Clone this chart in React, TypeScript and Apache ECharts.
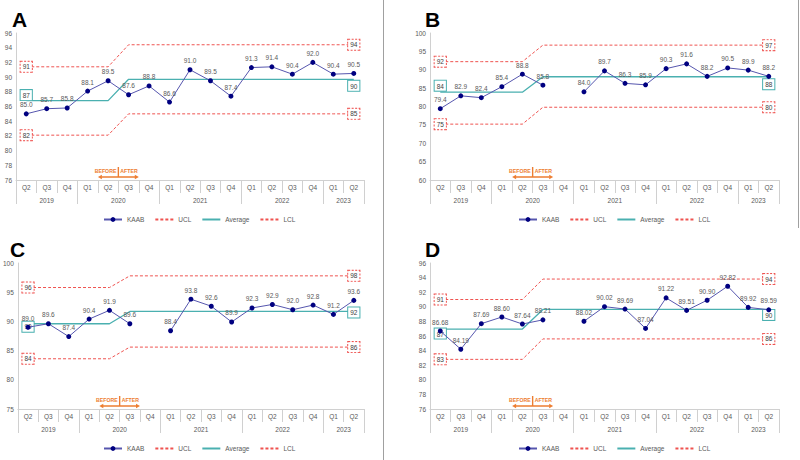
import React, { useEffect, useRef } from 'react';
import * as echarts from 'echarts';

// ---------- data ----------
const quarters = ['Q2', 'Q3', 'Q4', 'Q1', 'Q2', 'Q3', 'Q4', 'Q1', 'Q2', 'Q3', 'Q4', 'Q1', 'Q2', 'Q3', 'Q4', 'Q1', 'Q2'];
const years = ['2019', '2020', '2021', '2022', '2023'];
const quartersPerYear = [3, 4, 4, 4, 2];
const seriesNames = ['KAAB', 'UCL', 'Average', 'LCL'];
const panelTitles = ['A', 'B', 'C', 'D'];
// category index of last "before" quarter (Q2 2020) and first "after" quarter (Q3 2020)
const beforeIndex = 4;
const afterIndex = 5;

const kaabA = [85.0, 85.7, 85.8, 88.1, 89.5, 87.6, 88.8, 86.6, 91.0, 89.5, 87.4, 91.3, 91.4, 90.4, 92.0, 90.4, 90.5];
const uclA = [91.4, 91.4, 91.4, 91.4, 91.4, 94.4, 94.4, 94.4, 94.4, 94.4, 94.4, 94.4, 94.4, 94.4, 94.4, 94.4, 94.4];
const avgA = [86.8, 86.8, 86.8, 86.8, 86.8, 89.7, 89.7, 89.7, 89.7, 89.7, 89.7, 89.7, 89.7, 89.7, 89.7, 89.7, 89.7];
const lclA = [82.1, 82.1, 82.1, 82.1, 82.1, 85.0, 85.0, 85.0, 85.0, 85.0, 85.0, 85.0, 85.0, 85.0, 85.0, 85.0, 85.0];

const kaabB = [79.4, 82.9, 82.4, 85.4, 88.8, 85.8, null, 84.0, 89.7, 86.3, 85.9, 90.3, 91.6, 88.2, 90.5, 89.9, 88.2];
const uclB = [92.2, 92.2, 92.2, 92.2, 92.2, 96.7, 96.7, 96.7, 96.7, 96.7, 96.7, 96.7, 96.7, 96.7, 96.7, 96.7, 96.7];
const avgB = [83.9, 83.9, 83.9, 83.9, 83.9, 88.1, 88.1, 88.1, 88.1, 88.1, 88.1, 88.1, 88.1, 88.1, 88.1, 88.1, 88.1];
const lclB = [75.2, 75.2, 75.2, 75.2, 75.2, 79.8, 79.8, 79.8, 79.8, 79.8, 79.8, 79.8, 79.8, 79.8, 79.8, 79.8, 79.8];

const kaabC = [89.0, 89.6, 87.4, 90.4, 91.9, 89.6, null, 88.4, 93.8, 92.6, 89.9, 92.3, 92.9, 92.0, 92.8, 91.2, 93.6];
const uclC = [95.8, 95.8, 95.8, 95.8, 95.8, 97.8, 97.8, 97.8, 97.8, 97.8, 97.8, 97.8, 97.8, 97.8, 97.8, 97.8, 97.8];
const avgC = [89.6, 89.6, 89.6, 89.6, 89.6, 91.7, 91.7, 91.7, 91.7, 91.7, 91.7, 91.7, 91.7, 91.7, 91.7, 91.7, 91.7];
const lclC = [83.6, 83.6, 83.6, 83.6, 83.6, 85.6, 85.6, 85.6, 85.6, 85.6, 85.6, 85.6, 85.6, 85.6, 85.6, 85.6, 85.6];

const kaabD = [86.68, 84.19, 87.69, 88.60, 87.64, 88.21, null, 88.02, 90.02, 89.69, 87.04, 91.22, 89.51, 90.90, 92.82, 89.92, 89.59];
const uclD = [91.0, 91.0, 91.0, 91.0, 91.0, 93.8, 93.8, 93.8, 93.8, 93.8, 93.8, 93.8, 93.8, 93.8, 93.8, 93.8, 93.8];
const avgD = [86.95, 86.95, 86.95, 86.95, 86.95, 89.64, 89.64, 89.64, 89.64, 89.64, 89.64, 89.64, 89.64, 89.64, 89.64, 89.64, 89.64];
const lclD = [82.8, 82.8, 82.8, 82.8, 82.8, 85.6, 85.6, 85.6, 85.6, 85.6, 85.6, 85.6, 85.6, 85.6, 85.6, 85.6, 85.6];

const yMinA = 76, yMaxA = 96, yStepA = 2;
const yMinB = 60, yMaxB = 100, yStepB = 5;
const yMinC = 75, yMaxC = 100, yStepC = 5;
const yMinD = 76, yMaxD = 96, yStepD = 2;

const decimalsA = 1, decimalsB = 1, decimalsC = 1, decimalsD = 2;

// ---------- styles / layout ----------
const FONT = 'Liberation Sans';
const RED = '#EF5350';
const TEAL = '#4AB0B0';
const KAAB_LINE = '#5656AE';
const KAAB_DOT = '#000080';
const ORANGE = '#ED7D31';
const AXIS = '#D0D0D0';
const TXT = '#595959';

const panels = [
  { kaab: kaabA, ucl: uclA, avg: avgA, lcl: lclA, min: yMinA, max: yMaxA, step: yStepA, dec: decimalsA,
    grid: { left: 16, top: 33, width: 348, height: 147 }, title: [12, 9], legend: [103, 220],
    avgStart: { position: 'top', distance: 0, offset: [0, 0] }, avgEnd: { position: 'bottom', distance: 1, offset: [0, 0] } },
  { kaab: kaabB, ucl: uclB, avg: avgB, lcl: lclB, min: yMinB, max: yMaxB, step: yStepB, dec: decimalsB,
    grid: { left: 430, top: 33, width: 349, height: 147 }, title: [425, 9], legend: [518, 220],
    avgStart: { position: 'top', distance: 1, offset: [0, 0] }, avgEnd: { position: 'bottom', distance: 2, offset: [0, 0] } },
  { kaab: kaabC, ucl: uclC, avg: avgC, lcl: lclC, min: yMinC, max: yMaxC, step: yStepC, dec: decimalsC,
    grid: { left: 16, top: 263, width: 348, height: 146 }, title: [10, 239], legend: [103, 449],
    avgStart: { position: 'inside', distance: 0, offset: [0, 3] }, avgEnd: { position: 'inside', distance: 0, offset: [0, 1] } },
  { kaab: kaabD, ucl: uclD, avg: avgD, lcl: lclD, min: yMinD, max: yMaxD, step: yStepD, dec: decimalsD,
    grid: { left: 430, top: 263, width: 349, height: 146 }, title: [425, 239], legend: [518, 449],
    avgStart: { position: 'bottom', distance: -1, offset: [0, 0] }, avgEnd: { position: 'bottom', distance: 0, offset: [0, 0] } },
];

const categories = quarters.map((q, i) => q + '|' + i);
const yearBounds: number[] = [0];
quartersPerYear.forEach((n) => yearBounds.push(yearBounds[yearBounds.length - 1] + n));
const yearCenters = years.map((_, i) => (yearBounds[i] + yearBounds[i + 1]) / 2);

function boxLabel(border: string, dashed: boolean, extra: any) {
  return {
    show: true,
    fontSize: 6.5,
    fontFamily: FONT,
    color: '#404040',
    backgroundColor: '#fff',
    borderColor: border,
    borderWidth: 1,
    borderType: dashed ? [2, 1.5] : 'solid',
    padding: [2, 2, 1, 2],
    formatter: (p: any) => String(Math.round(p.value)),
    ...extra,
  };
}

function limitData(values: number[], border: string, dashed: boolean, startExtra: any, endExtra: any) {
  return values.map((v, i) => {
    if (i === 0 || i === values.length - 1) {
      return {
        value: v,
        symbol: 'circle',
        symbolSize: 1,
        itemStyle: { color: 'rgba(0,0,0,0)' },
        label: boxLabel(border, dashed, i === 0 ? startExtra : endExtra),
      };
    }
    return v;
  });
}

function buildOption() {
  const grid: any[] = [];
  const xAxis: any[] = [];
  const yAxis: any[] = [];
  const series: any[] = [];
  const legend: any[] = [];
  const graphic: any[] = [];

  panels.forEach((p, k) => {
    grid.push({ ...p.grid, containLabel: false });
    xAxis.push({
      type: 'category', gridIndex: k, data: categories, boundaryGap: true,
      axisLine: { show: true, lineStyle: { color: AXIS, width: 1 } },
      axisTick: { show: true, interval: 0, alignWithLabel: false, length: 13, lineStyle: { color: AXIS } },
      axisLabel: { interval: 0, fontSize: 6.5, fontFamily: FONT, color: TXT, margin: 4, formatter: (v: string) => v.split('|')[0] },
      splitLine: { show: false },
    });
    xAxis.push({
      type: 'value', gridIndex: k, min: 0, max: quarters.length, position: 'bottom',
      axisLine: { show: false },
      axisTick: { show: true, customValues: yearBounds, length: 24, lineStyle: { color: AXIS } },
      axisLabel: {
        show: true, customValues: yearCenters, fontSize: 6.5, fontFamily: FONT, color: TXT, margin: 17,
        formatter: (v: number) => {
          let best = 0;
          yearCenters.forEach((c, i) => { if (Math.abs(c - v) < Math.abs(yearCenters[best] - v)) best = i; });
          return years[best];
        },
      },
      splitLine: { show: false },
    });
    yAxis.push({
      type: 'value', gridIndex: k, min: p.min, max: p.max, interval: p.step,
      axisLine: { show: true, lineStyle: { color: AXIS } },
      axisTick: { show: false },
      splitLine: { show: false },
      axisLabel: { fontSize: 6.5, fontFamily: FONT, color: TXT, margin: 4 },
    });

    const xi = 2 * k;
    series.push({
      name: 'KAAB', type: 'line', xAxisIndex: xi, yAxisIndex: k, data: p.kaab, connectNulls: false,
      symbol: 'circle', symbolSize: 5, z: 3,
      lineStyle: { color: KAAB_LINE, width: 1 }, itemStyle: { color: KAAB_DOT },
      label: { show: true, position: 'top', distance: 3, fontSize: 6.5, fontFamily: FONT, color: TXT,
        formatter: (q: any) => Number(q.value).toFixed(p.dec) },
    });
    series.push({
      name: 'UCL', type: 'line', xAxisIndex: xi, yAxisIndex: k, symbol: 'none', z: 2,
      data: limitData(p.ucl, RED, true, { position: 'inside' }, { position: 'inside' }),
      lineStyle: { color: RED, width: 1, type: [3, 2] }, itemStyle: { color: RED },
    });
    series.push({
      name: 'Average', type: 'line', xAxisIndex: xi, yAxisIndex: k, symbol: 'none', z: 2,
      data: limitData(p.avg, TEAL, false, p.avgStart, p.avgEnd),
      lineStyle: { color: TEAL, width: 1.3 }, itemStyle: { color: TEAL },
    });
    series.push({
      name: 'LCL', type: 'line', xAxisIndex: xi, yAxisIndex: k, symbol: 'none', z: 2,
      data: limitData(p.lcl, RED, true, { position: 'inside' }, { position: 'inside' }),
      lineStyle: { color: RED, width: 1, type: [3, 2] }, itemStyle: { color: RED },
    });
    // before / after annotation on the quarter-boundary value axis
    series.push({
      type: 'custom', xAxisIndex: xi + 1, yAxisIndex: k, z: 4, silent: true,
      encode: { x: [0, 1, 2], y: [3] },
      data: [[beforeIndex, afterIndex, afterIndex + 1, p.min]],
      renderItem: (params: any, api: any) => {
        const ymin = api.value(3);
        const a = api.coord([api.value(0), ymin]);
        const s = api.coord([api.value(1), ymin]);
        const b = api.coord([api.value(2), ymin]);
        const y = a[1] - 3;
        const ah = 4;
        return {
          type: 'group',
          children: [
            { type: 'line', shape: { x1: a[0] + ah - 0.5, y1: y, x2: b[0] - ah + 0.5, y2: y }, style: { stroke: ORANGE, lineWidth: 1.3 } },
            { type: 'polygon', shape: { points: [[a[0], y], [a[0] + ah, y - 2.2], [a[0] + ah, y + 2.2]] }, style: { fill: ORANGE } },
            { type: 'polygon', shape: { points: [[b[0], y], [b[0] - ah, y - 2.2], [b[0] - ah, y + 2.2]] }, style: { fill: ORANGE } },
            { type: 'line', shape: { x1: s[0], y1: y, x2: s[0], y2: y - 10 }, style: { stroke: ORANGE, lineWidth: 1.4 } },
            { type: 'text', x: s[0] - 2, y: y - 6, style: { text: 'BEFORE', fill: ORANGE, fontSize: 5.2, fontWeight: 'bold', fontFamily: FONT, align: 'right', verticalAlign: 'middle' } },
            { type: 'text', x: s[0] + 2, y: y - 6, style: { text: 'AFTER', fill: ORANGE, fontSize: 5.2, fontWeight: 'bold', fontFamily: FONT, align: 'left', verticalAlign: 'middle' } },
          ],
        };
      },
    });

    legend.push({
      data: [
        { name: 'KAAB' },
        { name: 'UCL', itemStyle: { opacity: 0 } },
        { name: 'Average', itemStyle: { opacity: 0 } },
        { name: 'LCL', itemStyle: { opacity: 0 } },
      ],
      left: p.legend[0], top: p.legend[1] - 4, orient: 'horizontal', padding: 0,
      itemWidth: 18, itemHeight: 6, itemGap: 10, selectedMode: false,
      textStyle: { fontSize: 6.5, fontFamily: FONT, color: TXT },
    });

    graphic.push({
      type: 'text', x: p.title[0], y: p.title[1],
      style: { text: panelTitles[k], fontSize: 21, fontWeight: 'bold', fontFamily: FONT, fill: '#000' },
    });
  });

  graphic.push({ type: 'line', shape: { x1: 383.5, y1: 0, x2: 383.5, y2: 460 }, style: { stroke: '#A0A0A0', lineWidth: 1 } });
  graphic.push({ type: 'line', shape: { x1: 798.5, y1: 0, x2: 798.5, y2: 228 }, style: { stroke: '#A0A0A0', lineWidth: 1 } });

  return {
    animation: false,
    backgroundColor: '#fff',
    textStyle: { fontFamily: FONT },
    grid, xAxis, yAxis, series, legend, graphic,
  };
}

export default function App() {
  const ref = useRef<HTMLDivElement>(null);
  useEffect(() => {
    if (!ref.current) return;
    const chart = echarts.init(ref.current, null, { renderer: 'svg' });
    chart.setOption(buildOption() as any);
    return () => chart.dispose();
  }, []);
  return <div ref={ref} style={{ position: 'fixed', left: 0, top: 0, width: 800, height: 460 }} />;
}
